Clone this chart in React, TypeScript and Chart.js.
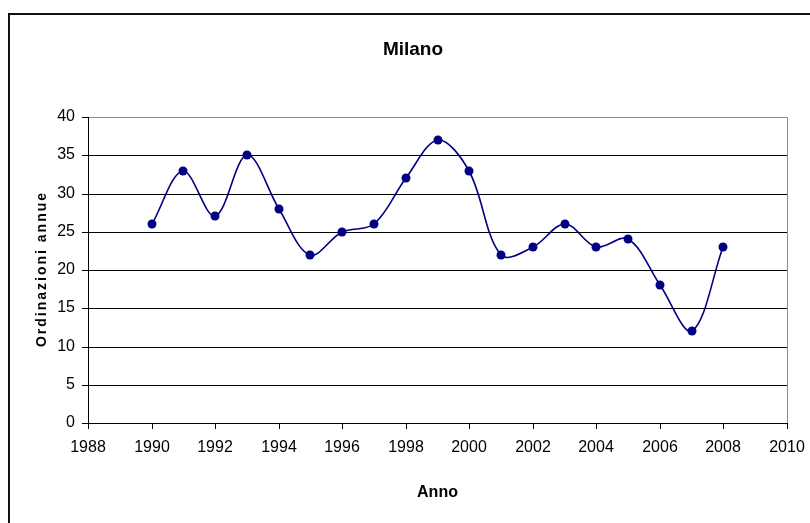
import React, { useEffect, useRef } from "react";
import { Chart, registerables } from "chart.js";

Chart.register(...registerables);

// ---- data ----
const years = [1990, 1991, 1992, 1993, 1994, 1995, 1996, 1997, 1998, 1999, 2000, 2001, 2002, 2003, 2004, 2005, 2006, 2007, 2008];
const orders = [26, 33, 27, 35, 28, 22, 25, 26, 32, 37, 33, 22, 23, 26, 23, 24, 18, 12, 23];
const xRange = [1988, 2010];
const xStep = 2;
const yRange = [0, 40];
const yStep = 5;
const chartTitle = "Milano";
const xTitle = "Anno";
const yTitle = "Ordinazioni annue";

const FONT = '"Liberation Sans", Arial, sans-serif';

const decor = {
  id: "decor",
  beforeDatasetsDraw(chart: any) {
    const { ctx, chartArea } = chart;
    const { top, right, bottom } = chartArea;
    ctx.save();
    ctx.strokeStyle = "#8c8c8c";
    ctx.lineWidth = 1;
    ctx.beginPath();
    ctx.moveTo(Math.round(right) + 0.5, Math.round(top));
    ctx.lineTo(Math.round(right) + 0.5, Math.round(bottom));
    ctx.stroke();
    ctx.restore();
  },
  afterDraw(chart: any) {
    const { ctx, chartArea } = chart;
    const { top, bottom } = chartArea;
    ctx.save();
    // outer chart border
    ctx.strokeStyle = "#111";
    ctx.lineWidth = 2;
    ctx.strokeRect(9, 14, 2000, 2000);
    // chart title
    ctx.fillStyle = "#000";
    ctx.font = `bold 19px ${FONT}`;
    ctx.textAlign = "center";
    ctx.textBaseline = "middle";
    ctx.fillText(chartTitle, 413, 50);
    // y axis title with letter spacing
    ctx.translate(42, (top + bottom) / 2);
    ctx.rotate(-Math.PI / 2);
    ctx.font = `bold 14px ${FONT}`;
    try {
      (ctx as any).letterSpacing = "2px";
    } catch (e) {}
    ctx.fillText(yTitle, 1, 0);
    ctx.restore();
  },
};

export default function App() {
  const ref = useRef<HTMLCanvasElement | null>(null);

  useEffect(() => {
    document.body.style.margin = "0";
    document.body.style.overflow = "hidden";
    const canvas = ref.current;
    if (!canvas) return;
    const chart = new Chart(canvas, {
      type: "line",
      data: {
        datasets: [
          {
            label: chartTitle,
            data: years.map((y, i) => ({ x: y, y: orders[i] })),
            borderColor: "#000080",
            backgroundColor: "#000080",
            borderWidth: 1.6,
            pointRadius: 4.5,
            pointBorderWidth: 0,
            pointBackgroundColor: "#000080",
            tension: 0.35,
            fill: false,
          },
        ],
      },
      options: {
        responsive: false,
        animation: false,
        events: [],
        layout: { padding: { top: 117, right: 23, bottom: 0, left: 0 } },
        plugins: {
          legend: { display: false },
          tooltip: { enabled: false },
          title: { display: false },
        },
        scales: {
          x: {
            type: "linear",
            min: xRange[0],
            max: xRange[1],
            alignToPixels: true,
            afterFit: (axis: any) => {
              axis.height = 100;
              axis.paddingLeft = 0;
              axis.paddingRight = 0;
            },
            ticks: {
              stepSize: xStep,
              color: "#000",
              font: { family: FONT, size: 16 },
              padding: 9,
              maxRotation: 0,
              callback: (v: any) => String(v),
            },
            grid: {
              drawOnChartArea: false,
              drawTicks: true,
              tickLength: 6,
              tickColor: "#000",
              color: "#000",
            },
            border: { color: "#000", width: 1 },
            title: {
              display: true,
              text: xTitle,
              color: "#000",
              font: { family: FONT, size: 16, weight: "bold" },
              padding: { top: 0, bottom: 21 },
            },
          },
          y: {
            type: "linear",
            min: yRange[0],
            max: yRange[1],
            alignToPixels: true,
            afterFit: (axis: any) => {
              axis.width = 88;
            },
            ticks: {
              stepSize: yStep,
              color: "#000",
              font: { family: FONT, size: 16 },
              padding: 7,
            },
            grid: {
              drawTicks: true,
              tickLength: 6,
              tickColor: "#000",
              color: (c: any) => (c.tick && c.tick.value === yRange[1] ? "#8c8c8c" : "#000"),
              lineWidth: 1,
            },
            border: { color: "#000", width: 1 },
            title: { display: false },
          },
        },
      },
      plugins: [decor],
    } as any);
    return () => chart.destroy();
  }, []);

  return <canvas ref={ref} width={810} height={523} style={{ display: "block" }} />;
}
